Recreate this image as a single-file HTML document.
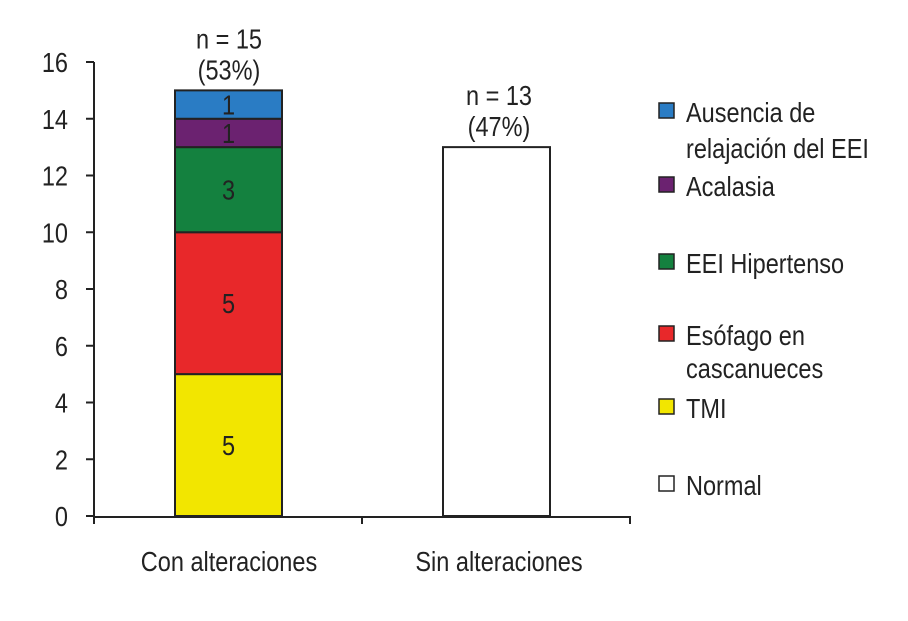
<!DOCTYPE html>
<html><head><meta charset="utf-8"><style>
body{margin:0;background:#fff;}
svg text{font-family:"Liberation Sans",sans-serif;fill:#222;}
</style></head><body>
<svg id="chart" width="908" height="616"></svg>
<script>
const categories=["Con alteraciones","Sin alteraciones"];
const seriesNames=["TMI","Esófago en cascanueces","EEI Hipertenso","Acalasia","Ausencia de relajación del EEI","Normal"];
const seriesColors=["#f2e600","#e8282a","#14813f","#6b2270","#2a7cc4","#ffffff"];
const conValues=[5,5,3,1,1,0];
const sinValues=[0,0,0,0,0,13];
const topLabels=[["n = 15","(53%)"],["n = 13","(47%)"]];
const yTicks=[0,2,4,6,8,10,12,14,16];
const NS="http://www.w3.org/2000/svg";
const svg=document.getElementById('chart');
const y0=516,y1=62,ymax=16;
const Y=v=>y0-(v/ymax)*(y0-y1);
const barX=[175,443],barW=107,catCenter=[229,499];
function mk(t,a,p){const e=document.createElementNS(NS,t);for(const k in a)e.setAttribute(k,a[k]);(p||svg).appendChild(e);return e;}
function txt(x,y,s,anchor,p){const e=mk('text',{x:0,y:0,'font-size':28,'text-anchor':anchor||'start',transform:`translate(${x},${y}) scale(0.84,1)`},p);e.textContent=s;return e;}
let ax=mk('line',{x1:94,y1:Y(16),x2:94,y2:y0,stroke:'#222','stroke-width':2});


yTicks.forEach(v=>{
 let t=mk('line',{x1:86,x2:94,y1:Y(v),y2:Y(v),stroke:'#222','stroke-width':2});
 
 
 let l=txt(68,Y(v)+10,String(v),'end');
 
 
});
let xa=mk('line',{x1:94,y1:y0+1,x2:630,y2:y0+1,stroke:'#222','stroke-width':2});


[94,362,630].forEach(x=>{let t=mk('line',{x1:x,x2:x,y1:y0,y2:y0+8,stroke:'#222','stroke-width':2});
 
 });
categories.forEach((c,i)=>{let l=txt(catCenter[i],571,c,'middle');
 
 });
[conValues,sinValues].forEach((vals,ci)=>{
 let acc=0;
 vals.forEach((v,si)=>{
  if(v<=0)return;
  let r=mk('rect',{x:barX[ci],y:Y(acc+v),width:barW,height:Y(acc)-Y(acc+v),fill:seriesColors[si],stroke:'#222','stroke-width':2});
  
  
  if(ci===0){let l=txt(barX[ci]+barW/2,(Y(acc)+Y(acc+v))/2+10,String(v),'middle');
   
   }
  acc+=v;
 });
 let top=Y(acc);
 topLabels[ci].forEach((s,k)=>{let l=txt(catCenter[ci],top-42+k*31,s,'middle');
  
  });
});
const legendRows=[[4,[112,148]],[3,[186]],[2,[263]],[1,[335,368]],[0,[408]],[5,[485]]];
legendRows.forEach(([si,ys])=>{
 let g=mk('g',{});
 
 
 mk('rect',{x:659,y:ys[0]-9,width:15,height:15,fill:seriesColors[si],stroke:'#222','stroke-width':1.5},g);
 const lines=si===4?["Ausencia de","relajación del EEI"]:si===1?["Esófago en","cascanueces"]:[seriesNames[si]];
 lines.forEach((s,k)=>{txt(686,ys[k]+10,s,'start',g);});
});
</script>
</body></html>
